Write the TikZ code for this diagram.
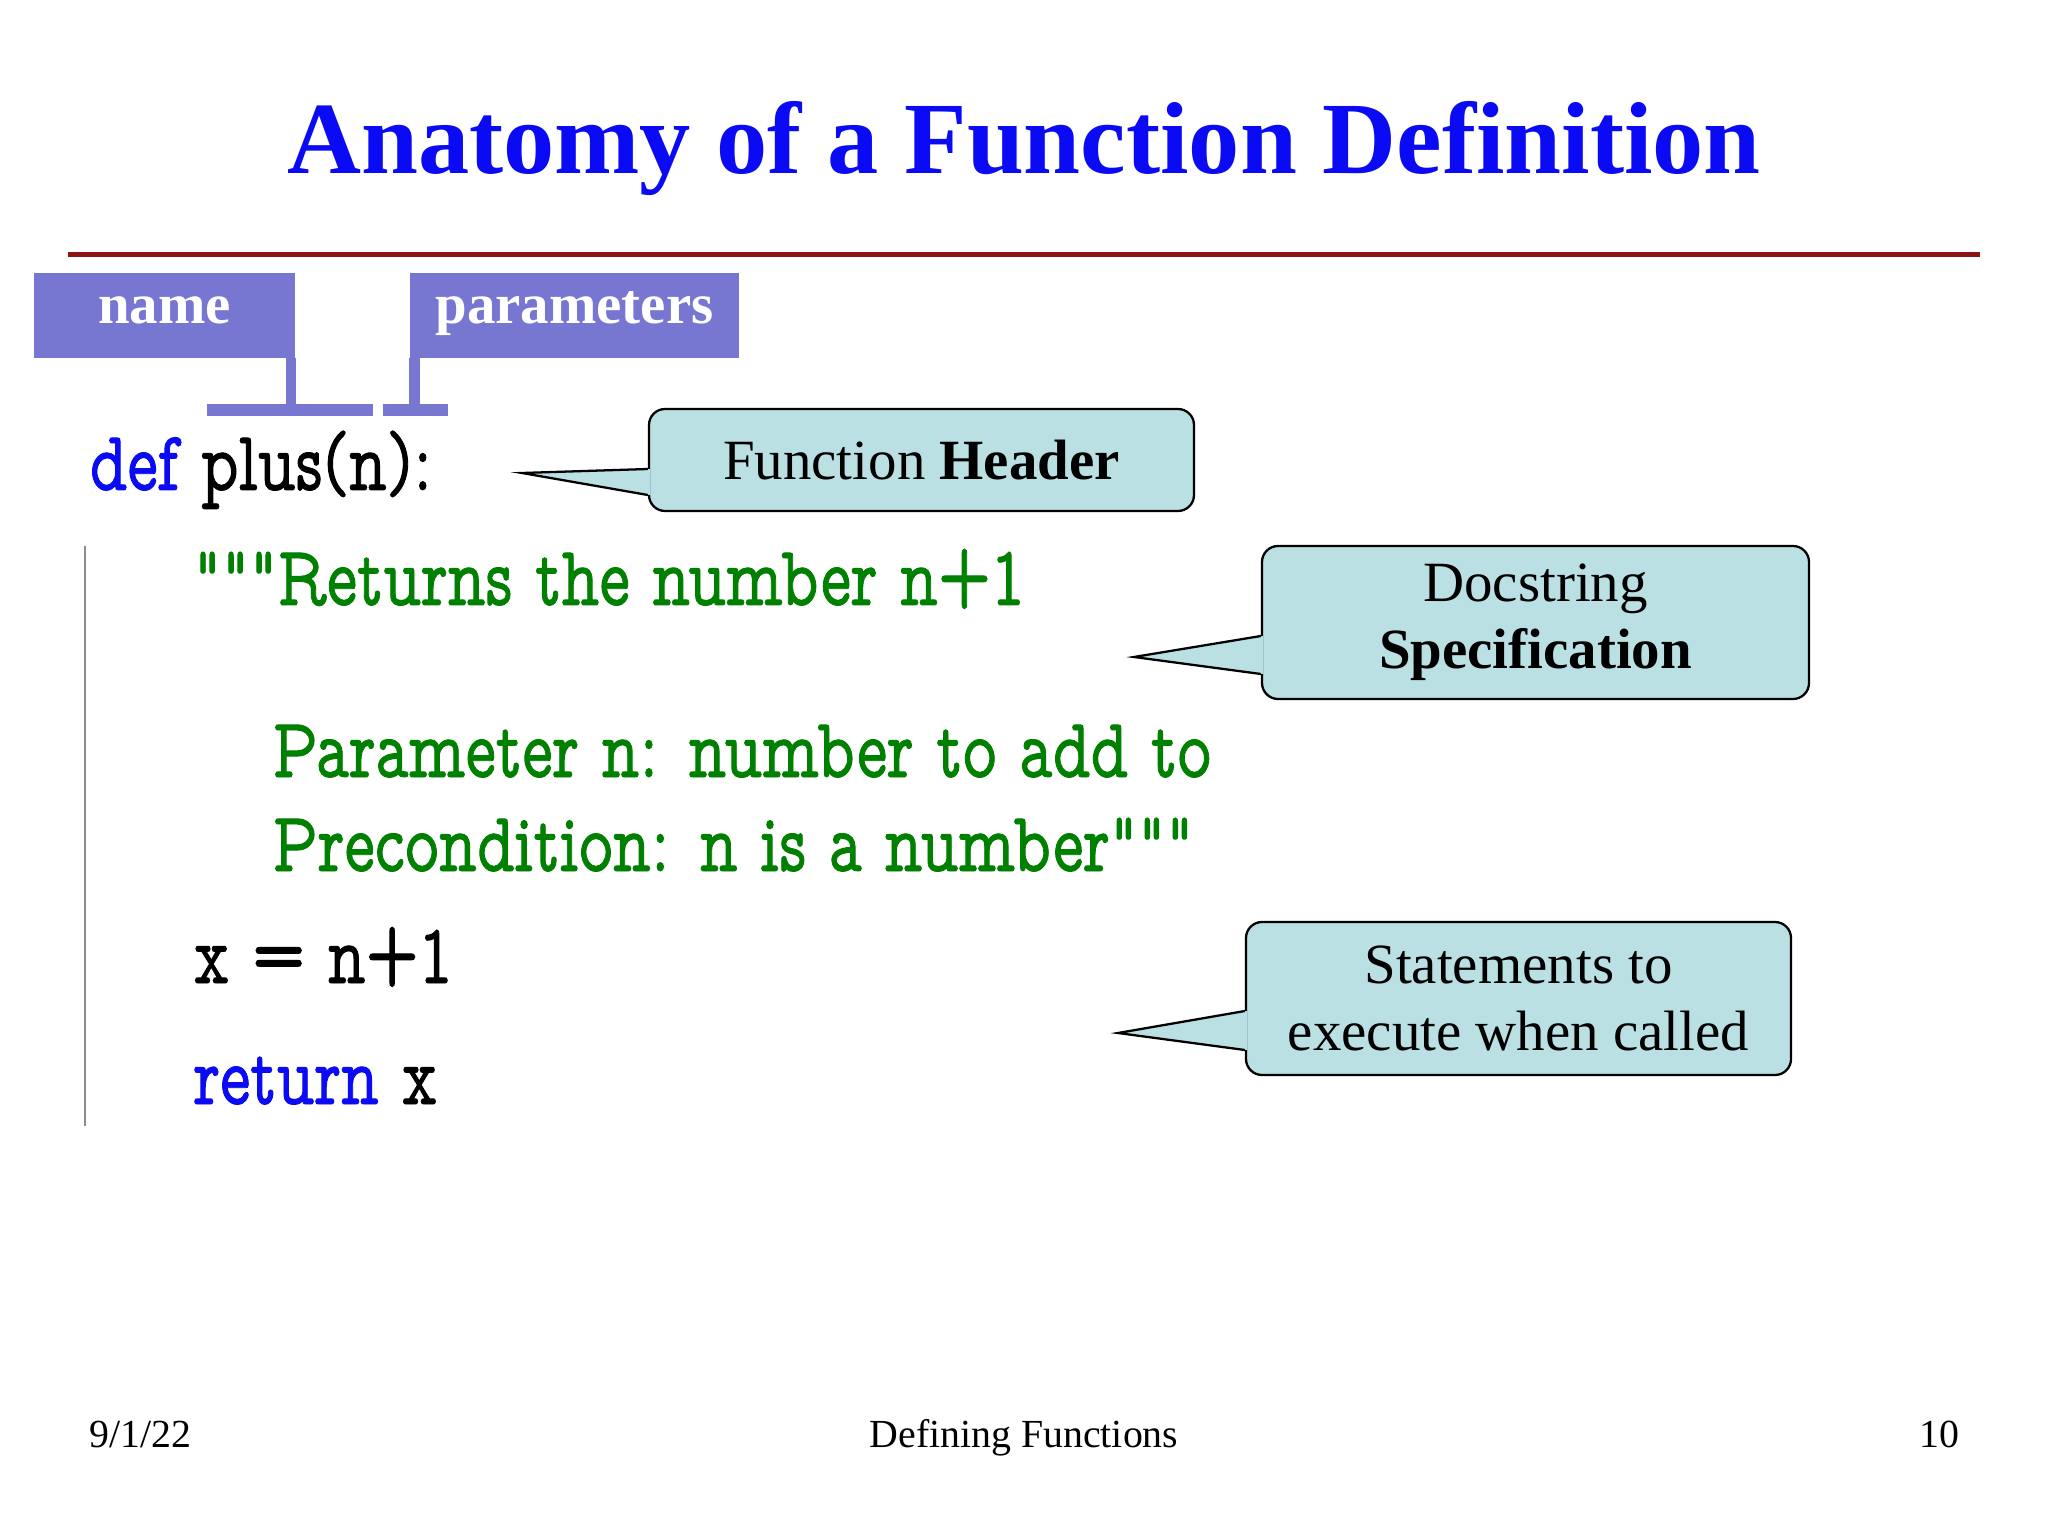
\documentclass[tikz,border=0pt]{standalone}
\usepackage{fontspec}
\setmainfont{Liberation Serif}
\newfontfamily\codefont[FakeStretch=0.76,FakeBold=1.0]{lmmonoprop10-regular.otf}
\usetikzlibrary{calc}
\definecolor{titleblue}{RGB}{10,10,245}
\definecolor{kwblue}{RGB}{10,10,245}
\definecolor{docgreen}{RGB}{0,128,0}
\definecolor{rulered}{RGB}{140,20,20}
\definecolor{labfill}{RGB}{119,119,210}
\definecolor{callfill}{RGB}{186,224,227}
\definecolor{barGray}{RGB}{140,140,140}
\def\pu{0.3515625pt}
\begin{document}
\begin{tikzpicture}[x=0.3515625pt,y=-0.3515625pt,
  codeline/.style={anchor=base west, inner sep=0pt, font=\codefont\fontsize{30}{36}\selectfont},
  labelbox/.style={fill=labfill, text=white, font=\fontsize{20}{24}\selectfont\bfseries,
    minimum width=#1*\pu, minimum height=85*\pu, inner sep=0pt, text height=12pt, text depth=6.7pt},
  callout/.style={draw=black, line width=0.8pt, fill=callfill, rounded corners=16*\pu,
    inner sep=0pt, align=center, font=\fontsize{20}{23.5}\selectfont},
  pointer/.style={draw=black, line width=0.8pt},
  footer/.style={font=\fontsize{14}{17}\selectfont, inner sep=0pt}
]
\useasboundingbox (0,0) rectangle (2048,1536);
\fill[white] (0,0) rectangle (2048,1536);

% title and rule
\node[anchor=base, inner sep=0pt, text=titleblue, font=\fontsize{36}{43}\selectfont\bfseries] (title) at (1024,174) {Anatomy of a Function Definition};
\coordinate (ruleL) at (68,255);
\coordinate (ruleR) at (1980,255);
\draw[rulered, line width=5*\pu] (ruleL) -- (ruleR);

% labels with brackets
\node[labelbox=261] (nm) at (164.5,315.5) {name};
\fill[labfill] ($(nm.south east)+(-10,-1)$) rectangle ($(nm.south east)+(0,57)$);
\fill[labfill] ($(nm.south east)+(-89,45)$) rectangle ($(nm.south east)+(77,57)$);
\node[labelbox=329] (pm) at (574.5,315.5) {parameters};
\fill[labfill] ($(pm.south west)+(0,-1)$) rectangle ($(pm.south west)+(11,57)$);
\fill[labfill] ($(pm.south west)+(-26,45)$) rectangle ($(pm.south west)+(39,57)$);

% code
\coordinate (vtop) at (85,546);
\coordinate (vbot) at (85,1126);
\draw[barGray, line width=0.7pt] (vtop) -- (vbot);
\node[codeline] (l1) at (89,490) {\textcolor{kwblue}{def} plus(n):};
\node[codeline, text=docgreen] (l2) at (193,605) {"""Returns the number n+1};
\node[codeline, text=docgreen] (l3) at (272,777) {Parameter n: number to add to};
\node[codeline, text=docgreen] (l4) at (272,871) {Precondition: n is a number"""};
\node[codeline] (l5) at (193,983) {x = n+1};
\node[codeline] (l6) at (193,1104) {\textcolor{kwblue}{return} x};

% callouts
\node[callout, minimum width=545*\pu, minimum height=102*\pu] (hdr) at (921.5,460) {Function \textbf{Header}};
\coordinate (hdrtip) at (522,473);
\fill[callfill] ($(hdr.west)+(2,9)$) -- (hdrtip) -- ($(hdr.west)+(2,35)$) -- cycle;
\draw[pointer] ($(hdr.west)+(0,9)$) -- (hdrtip) -- ($(hdr.west)+(0,35)$);

\node[callout, minimum width=547*\pu, minimum height=153*\pu] (dsp) at (1535.5,622.5) {Docstring\\\textbf{Specification}};
\coordinate (dsptip) at (1134,657);
\fill[callfill] ($(dsp.west)+(2,13.5)$) -- (dsptip) -- ($(dsp.west)+(2,51.5)$) -- cycle;
\draw[pointer] ($(dsp.west)+(0,13.5)$) -- (dsptip) -- ($(dsp.west)+(0,51.5)$);

\node[callout, minimum width=545*\pu, minimum height=153*\pu] (stm) at (1518.5,998.5) {Statements to\\execute when called};
\coordinate (stmtip) at (1118,1033);
\fill[callfill] ($(stm.west)+(2,12.5)$) -- (stmtip) -- ($(stm.west)+(2,51.5)$) -- cycle;
\draw[pointer] ($(stm.west)+(0,12.5)$) -- (stmtip) -- ($(stm.west)+(0,51.5)$);

% footer
\node[footer, anchor=base west] (date) at (89,1447) {9/1/22};
\node[footer, anchor=base] (ftitle) at (1024,1447) {Defining Functions};
\node[footer, anchor=base east] (pgno) at (1960,1447) {10};
\end{tikzpicture}
\end{document}
